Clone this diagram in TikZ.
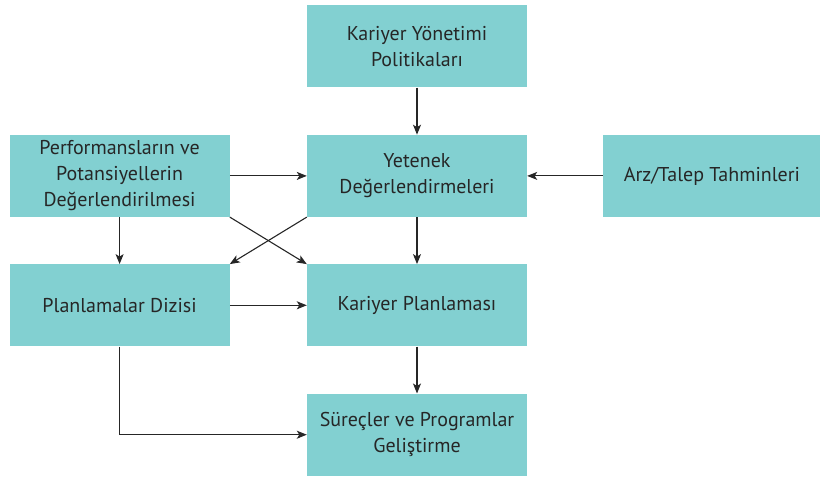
\documentclass[tikz,border=0pt]{standalone}
\usepackage{fontspec}
\setmainfont{PT Sans}
\usetikzlibrary{arrows.meta,positioning}

\definecolor{kutu}{HTML}{82D0D1}

\begin{document}
\begin{tikzpicture}[
  x=1pt, y=1pt,
  node distance=47pt and 77pt,
  box/.style={rectangle, fill=kutu, minimum width=220pt, minimum height=82pt,
              align=center, font=\fontsize{20}{26}\selectfont, text=black!85,
              inner sep=0pt},
  arr/.style={-{Stealth[length=10pt,width=8pt,inset=2.5pt]}, line width=1.1pt, draw=black!85}
]
\useasboundingbox (0,0) rectangle (821,480);

\node[box] (pol) at (417,433.5) {Kariyer Yönetimi\\Politikaları};
\node[box, below=of pol] (yet) {Yetenek\\Değerlendirmeleri};
\node[box, left=of yet] (perf) {Performansların ve\\Potansiyellerin\\Değerlendirilmesi};
\node[box, right=76pt of yet, minimum width=217pt] (arz) {Arz/Talep Tahminleri};
\node[box, below=of perf] (pdiz) {Planlamalar Dizisi};
\node[box, below=of yet] (kplan) {Kariyer Planlaması};
\node[box, below=47pt of kplan] (surec) {Süreçler ve Programlar\\Geliştirme};

\draw[arr] (pol) -- (yet);
\draw[arr] (perf) -- (yet);
\draw[arr] (arz) -- (yet);
\draw[arr] (perf) -- (pdiz);
\draw[arr] (yet) -- (kplan);
\draw[arr] (perf.south east) -- (kplan.north west);
\draw[arr] (yet.south west) -- (pdiz.north east);
\draw[arr] (pdiz) -- (kplan);
\draw[arr] (kplan) -- (surec);
\draw[arr] (pdiz.south) |- (surec.west);
\end{tikzpicture}
\end{document}
